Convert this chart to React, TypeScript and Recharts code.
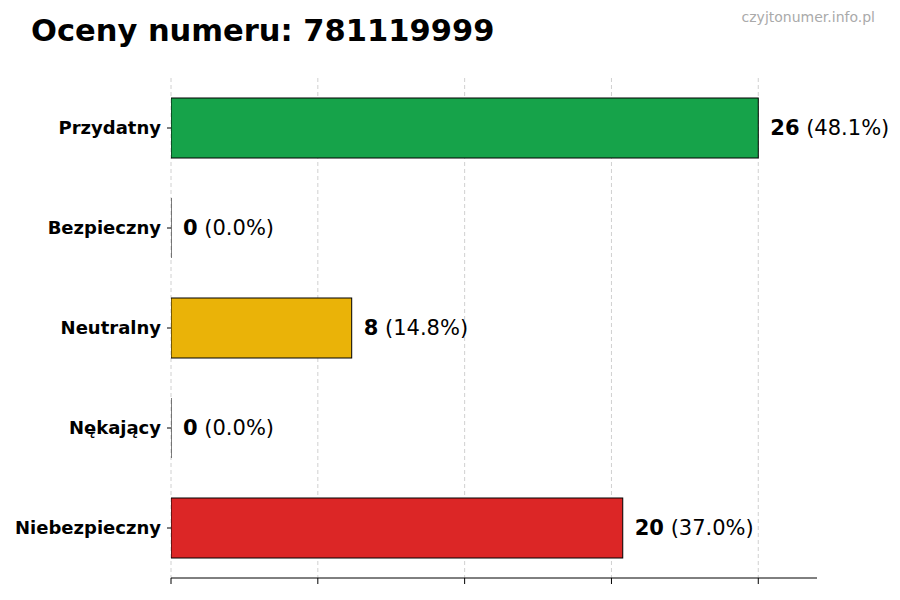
import React from "react";
import { BarChart, Bar, XAxis, YAxis, CartesianGrid, Cell, LabelList } from "recharts";

const categories = ["Przydatny", "Bezpieczny", "Neutralny", "Nękający", "Niebezpieczny"];
const counts = [26, 0, 8, 0, 20];
const colors = ["#16a34a", "#9ca3af", "#eab308", "#6b7280", "#dc2626"];
const xTicks = [0, 6.5, 13, 19.5, 26];

const total = counts.reduce((a, b) => a + b, 0);
const data = categories.map((name, i) => ({
  name,
  value: counts[i],
  pct: total ? ((counts[i] / total) * 100).toFixed(1) : "0.0",
}));

const FONT = "'DejaVu Sans', sans-serif";

const BarShape = (props: any) => {
  const { x, y, width, height, fill } = props;
  if (!width || width < 0.5) {
    return <line x1={x} x2={x} y1={y} y2={y + height} stroke="#000" strokeWidth={1} />;
  }
  return <rect x={x} y={y} width={width} height={height} fill={fill} stroke="#000" strokeWidth={1} />;
};

const ValueLabel = (props: any) => {
  const { x, y, width, height, index } = props;
  const d = data[index];
  return (
    <text
      x={x + width + 12}
      y={y + height / 2}
      dominantBaseline="central"
      fontFamily={FONT}
      fontSize={21}
      fill="#000"
    >
      <tspan fontWeight="bold">{d.value}</tspan>
      <tspan>{` (${d.pct}%)`}</tspan>
    </text>
  );
};

export default function App() {
  return (
    <div style={{ position: "absolute", left: 0, top: 0, width: 900, height: 600, background: "#fff" }}>
      <div
        style={{
          position: "absolute",
          left: 31,
          top: 13,
          fontFamily: FONT,
          fontWeight: "bold",
          fontSize: 30.5,
          color: "#000",
          whiteSpace: "nowrap",
        }}
      >
        Oceny numeru: 781119999
      </div>
      <div
        style={{
          position: "absolute",
          right: 25,
          top: 9,
          fontFamily: FONT,
          fontSize: 14,
          color: "#aaaaaa",
        }}
      >
        czyjtonumer.info.pl
      </div>
      <BarChart
        width={900}
        height={600}
        data={data}
        layout="vertical"
        margin={{ top: 78, right: 83, bottom: 10, left: 0 }}
        barCategoryGap={40}
      >
        <CartesianGrid horizontal={false} syncWithTicks stroke="#d0d0d0" strokeDasharray="4 3" />
        <XAxis
          type="number"
          domain={[0, 28.6]}
          ticks={xTicks}
          allowDataOverflow
          height={12}
          tickFormatter={() => ""}
          tickSize={6}
          tickLine={{ stroke: "#000" }}
          axisLine={{ stroke: "#000" }}
        />
        <YAxis
          type="category"
          dataKey="name"
          width={171}
          axisLine={false}
          tickSize={4}
          tickMargin={6}
          tickLine={{ stroke: "#000" }}
          tick={{ fontFamily: FONT, fontWeight: "bold", fontSize: 18, fill: "#000" }}
        />
        <Bar dataKey="value" isAnimationActive={false} shape={BarShape} barSize={60}>
          {data.map((_, i) => (
            <Cell key={i} fill={colors[i]} />
          ))}
          <LabelList dataKey="value" content={ValueLabel} />
        </Bar>
      </BarChart>
    </div>
  );
}
